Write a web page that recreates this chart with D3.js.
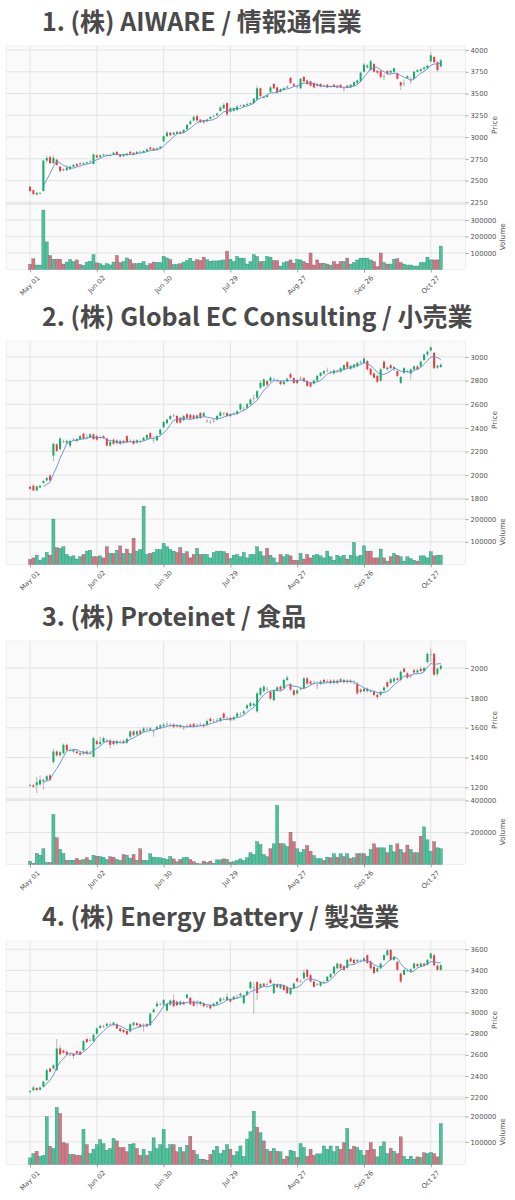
<!DOCTYPE html>
<html>
<head>
<meta charset="utf-8">
<script src="https://cdn.jsdelivr.net/npm/d3@7"></script>
<style>
  body { margin: 0; background: #fff; }
  svg { display: block; }
</style>
</head>
<body>
<svg id="chart" width="515" height="1200"></svg>
<script>
// trading-day index of each date tick (every 20 sessions) and its label
const dateTickIdx = [0, 20, 40, 60, 80, 100, 120];
const dateLabels = ["May 01", "Jun 02", "Jun 30", "Jul 29", "Aug 27", "Sep 26", "Oct 27"];

const titles = [
  "1. (株) AIWARE / 情報通信業",
  "2. (株) Global EC Consulting / 小売業",
  "3. (株) Proteinet / 食品",
  "4. (株) Energy Battery / 製造業"
];

// ---- 1. AIWARE
const aiwareOpen = [2430,2390,2340,2350,2380,2730,2770,2700,2740,2660,
  2630,2620,2630,2660,2690,2700,2690,2700,2720,2690,
  2790,2770,2790,2790,2795,2800,2830,2800,2780,2790,
  2830,2820,2810,2830,2820,2840,2880,2870,2850,2870,
  2950,3010,3050,3030,3040,3060,3050,3090,3150,3190,
  3240,3200,3190,3180,3210,3240,3250,3300,3330,3390,
  3290,3300,3310,3360,3350,3370,3380,3390,3430,3560,
  3450,3460,3520,3610,3570,3520,3540,3570,3680,3610,
  3580,3560,3690,3650,3640,3620,3610,3610,3590,3600,
  3580,3600,3590,3600,3560,3590,3570,3590,3620,3640,
  3750,3800,3770,3840,3760,3760,3700,3760,3740,3750,
  3730,3630,3620,3680,3670,3670,3750,3760,3780,3790,
  3870,3920,3860,3810];
const aiwareClose = [2380,2345,2360,2355,2730,2760,2700,2760,2680,2610,
  2620,2650,2660,2680,2670,2690,2700,2710,2720,2800,
  2765,2790,2800,2790,2795,2820,2800,2775,2800,2810,
  2810,2800,2830,2830,2840,2860,2860,2850,2870,2890,
  3010,3050,3020,3050,3060,3040,3080,3140,3180,3230,
  3190,3170,3170,3200,3230,3240,3270,3340,3370,3260,
  3330,3330,3350,3360,3370,3380,3390,3440,3560,3470,
  3460,3480,3570,3560,3510,3550,3560,3580,3620,3590,
  3580,3670,3640,3610,3590,3570,3590,3580,3590,3570,
  3580,3580,3570,3570,3560,3570,3600,3630,3650,3740,
  3830,3820,3870,3750,3740,3690,3700,3730,3760,3790,
  3670,3590,3620,3700,3670,3750,3770,3780,3800,3820,
  3940,3860,3770,3880];
const aiwareHigh = [2440,2395,2365,2365,2740,2790,2790,2790,2750,2665,
  2640,2660,2670,2690,2700,2710,2710,2720,2735,2810,
  2800,2800,2810,2805,2810,2830,2840,2805,2810,2820,
  2840,2825,2840,2845,2850,2870,2890,2880,2880,2900,
  3020,3070,3060,3060,3070,3070,3090,3150,3200,3250,
  3260,3210,3200,3210,3240,3255,3280,3360,3390,3400,
  3340,3340,3370,3375,3380,3400,3400,3450,3590,3570,
  3475,3495,3590,3620,3580,3560,3575,3590,3690,3620,
  3600,3680,3700,3660,3650,3630,3620,3620,3605,3610,
  3595,3610,3600,3610,3575,3600,3610,3640,3660,3750,
  3850,3840,3890,3850,3775,3770,3720,3770,3770,3800,
  3740,3640,3660,3710,3690,3760,3780,3790,3810,3830,
  3970,3930,3870,3900];
const aiwareLow = [2370,2330,2325,2340,2375,2700,2690,2690,2670,2590,
  2605,2610,2620,2650,2660,2680,2680,2690,2705,2685,
  2755,2760,2780,2775,2785,2795,2790,2765,2770,2785,
  2800,2790,2800,2815,2815,2830,2850,2840,2845,2860,
  2940,3000,3010,3020,3030,3030,3040,3080,3140,3180,
  3180,3160,3150,3170,3200,3225,3240,3290,3320,3240,
  3280,3290,3300,3345,3340,3360,3370,3380,3420,3460,
  3440,3450,3510,3550,3500,3510,3530,3560,3610,3580,
  3560,3550,3630,3600,3580,3560,3575,3570,3575,3560,
  3565,3570,3560,3560,3520,3560,3560,3580,3610,3630,
  3740,3790,3760,3740,3720,3670,3650,3720,3730,3740,
  3660,3540,3580,3670,3610,3660,3740,3750,3770,3780,
  3860,3850,3750,3800];
const aiwareVolume = [31000,65000,27000,27000,360000,167000,85000,62000,62000,62000,
  33000,45000,60000,48000,58000,30000,25000,45000,50000,90000,
  40000,35000,25000,35000,28000,45000,85000,42000,48000,70000,
  60000,35000,35000,38000,48000,25000,35000,45000,42000,42000,
  80000,70000,60000,30000,30000,35000,45000,55000,68000,50000,
  60000,55000,75000,60000,50000,52000,52000,55000,58000,110000,
  62000,48000,79000,69000,69000,33000,48000,90000,79000,48000,
  48000,79000,75000,54000,54000,21000,42000,48000,58000,38000,
  62000,58000,48000,38000,100000,27000,58000,38000,38000,33000,
  27000,48000,33000,48000,48000,69000,33000,42000,58000,69000,
  69000,69000,58000,48000,17000,100000,42000,33000,33000,62000,
  65000,42000,33000,27000,27000,21000,21000,42000,42000,75000,
  58000,58000,58000,142000];

// ---- 2. Global EC Consulting
const globalOpen = [1900,1910,1870,1895,1935,1955,1995,2165,2260,2220,
  2285,2275,2250,2300,2290,2305,2350,2320,2320,2345,
  2330,2320,2330,2310,2250,2300,2270,2290,2275,2330,
  2290,2290,2275,2285,2295,2310,2355,2300,2295,2345,
  2405,2440,2475,2505,2500,2485,2465,2515,2510,2505,
  2480,2525,2500,2460,2450,2460,2470,2500,2520,2525,
  2500,2520,2520,2555,2560,2570,2600,2650,2655,2740,
  2755,2795,2795,2810,2800,2795,2770,2795,2855,2820,
  2805,2820,2820,2795,2780,2775,2800,2840,2860,2885,
  2870,2860,2880,2875,2895,2955,2900,2910,2920,2950,
  2950,2965,2900,2860,2840,2800,2960,2895,2930,2895,
  2880,2780,2865,2880,2860,2895,2920,2920,2975,3020,
  3055,3035,2910,2915];
const globalClose = [1885,1870,1905,1910,1950,1975,1955,2265,2205,2310,
  2285,2290,2290,2300,2305,2330,2310,2320,2345,2305,
  2300,2320,2315,2250,2280,2265,2295,2265,2290,2280,
  2290,2265,2295,2285,2315,2340,2315,2300,2330,2385,
  2450,2470,2500,2505,2445,2445,2500,2485,2480,2480,
  2505,2485,2525,2460,2450,2460,2500,2530,2520,2500,
  2515,2520,2540,2600,2560,2600,2640,2650,2710,2780,
  2810,2765,2825,2810,2800,2770,2790,2815,2825,2780,
  2780,2820,2795,2755,2750,2800,2840,2865,2880,2885,
  2870,2885,2880,2905,2930,2910,2925,2935,2950,2955,
  2985,2895,2850,2825,2790,2895,2905,2910,2905,2915,
  2840,2830,2905,2880,2895,2920,2895,2960,3020,3045,
  3080,2905,2925,2935];
const globalHigh = [1910,1925,1915,1920,1960,1985,2010,2275,2270,2320,
  2300,2300,2300,2315,2315,2340,2360,2345,2355,2355,
  2340,2335,2340,2315,2290,2310,2305,2300,2300,2340,
  2305,2300,2305,2300,2325,2350,2365,2330,2340,2395,
  2460,2480,2510,2520,2510,2495,2510,2525,2520,2515,
  2515,2535,2535,2475,2465,2475,2510,2545,2535,2535,
  2525,2535,2550,2610,2580,2610,2650,2680,2720,2800,
  2820,2805,2840,2825,2815,2805,2800,2825,2870,2830,
  2815,2835,2830,2805,2790,2810,2850,2875,2890,2910,
  2885,2895,2895,2915,2940,2965,2935,2945,2960,2970,
  3000,2975,2910,2870,2850,2905,2970,2920,2940,2925,
  2890,2840,2915,2895,2905,2930,2930,2970,3030,3055,
  3090,3045,2935,2945];
const globalLow = [1875,1865,1865,1890,1925,1950,1950,2120,2195,2210,
  2270,2265,2230,2290,2280,2295,2300,2300,2310,2295,
  2290,2305,2305,2240,2240,2255,2260,2255,2265,2270,
  2275,2255,2265,2270,2285,2300,2305,2270,2285,2335,
  2395,2430,2465,2490,2435,2435,2455,2475,2470,2470,
  2470,2475,2490,2445,2435,2445,2460,2490,2505,2490,
  2490,2505,2510,2545,2545,2560,2590,2620,2645,2730,
  2745,2755,2785,2795,2785,2760,2760,2785,2815,2770,
  2770,2805,2785,2745,2740,2765,2790,2830,2850,2870,
  2855,2850,2865,2865,2885,2900,2890,2900,2910,2940,
  2940,2885,2840,2815,2780,2790,2895,2885,2895,2885,
  2830,2770,2855,2865,2810,2885,2885,2910,2965,3010,
  3045,2895,2900,2905];
const globalVolume = [22000,29000,41000,19000,29000,53000,41000,200000,74000,71000,
  78000,44000,34000,38000,24000,34000,44000,59000,63000,34000,
  34000,38000,29000,78000,49000,49000,63000,82000,49000,68000,
  49000,115000,59000,66000,257000,44000,49000,53000,66000,66000,
  93000,78000,66000,59000,53000,74000,49000,56000,29000,44000,
  71000,44000,44000,44000,29000,53000,59000,59000,56000,49000,
  26000,41000,44000,34000,53000,29000,44000,44000,78000,56000,
  38000,71000,41000,29000,9000,44000,34000,44000,38000,19000,
  19000,49000,24000,44000,29000,41000,44000,38000,29000,59000,
  34000,19000,41000,34000,41000,24000,41000,97000,34000,41000,
  82000,59000,59000,29000,29000,68000,29000,15000,34000,49000,
  41000,34000,15000,34000,26000,19000,15000,38000,38000,29000,
  56000,38000,41000,41000];

// ---- 3. Proteinet
const proteinetOpen = [1210,1215,1215,1220,1240,1250,1280,1370,1440,1415,
  1430,1485,1450,1440,1440,1430,1425,1440,1430,1405,
  1510,1490,1505,1510,1515,1510,1495,1505,1510,1500,
  1540,1575,1555,1580,1575,1590,1585,1575,1590,1600,
  1610,1625,1615,1620,1610,1615,1600,1610,1620,1625,
  1615,1620,1620,1620,1660,1645,1650,1645,1695,1660,
  1665,1655,1675,1690,1695,1730,1745,1750,1710,1820,
  1845,1860,1840,1785,1850,1875,1865,1920,1890,1850,
  1830,1860,1865,1930,1910,1900,1885,1895,1920,1910,
  1915,1900,1915,1910,1920,1905,1915,1900,1895,1840,
  1860,1845,1845,1840,1820,1820,1850,1905,1900,1910,
  1930,1920,1995,1965,1945,1985,1970,1995,1980,2040,
  2090,2095,1960,1995];
const proteinetClose = [1215,1205,1235,1250,1250,1275,1250,1440,1415,1435,
  1485,1450,1450,1450,1430,1420,1435,1425,1430,1530,
  1490,1505,1530,1510,1485,1490,1510,1505,1500,1525,
  1575,1550,1575,1560,1595,1590,1595,1575,1605,1615,
  1620,1625,1615,1605,1610,1605,1600,1610,1610,1610,
  1615,1620,1610,1645,1645,1645,1650,1665,1665,1660,
  1650,1670,1695,1690,1710,1750,1765,1760,1830,1865,
  1875,1860,1795,1850,1870,1855,1920,1935,1855,1820,
  1850,1860,1930,1895,1895,1900,1885,1910,1905,1910,
  1900,1915,1900,1925,1905,1915,1905,1900,1830,1855,
  1845,1860,1845,1820,1805,1840,1870,1875,1925,1930,
  1920,1975,1975,1935,1945,1970,1985,1980,2000,2095,
  2090,1955,1995,2015];
const proteinetHigh = [1225,1225,1270,1280,1260,1285,1290,1460,1450,1445,
  1495,1495,1465,1460,1450,1440,1445,1450,1445,1540,
  1520,1540,1540,1525,1525,1520,1520,1520,1520,1535,
  1585,1585,1585,1590,1605,1605,1605,1590,1615,1625,
  1630,1640,1630,1630,1625,1625,1615,1625,1630,1635,
  1630,1635,1630,1655,1670,1660,1665,1675,1705,1675,
  1675,1680,1705,1705,1720,1760,1775,1770,1840,1875,
  1885,1875,1850,1860,1880,1885,1930,1950,1900,1860,
  1860,1875,1940,1940,1920,1915,1910,1920,1930,1925,
  1925,1925,1925,1935,1930,1925,1925,1915,1905,1865,
  1870,1870,1860,1850,1830,1850,1880,1915,1935,1940,
  1940,1985,2005,1975,1960,1995,1995,2010,2010,2105,
  2130,2100,2005,2025];
const proteinetLow = [1205,1195,1160,1210,1185,1240,1240,1360,1405,1405,
  1420,1440,1440,1430,1420,1410,1415,1415,1420,1400,
  1480,1480,1495,1500,1460,1480,1485,1495,1490,1490,
  1530,1540,1545,1550,1565,1580,1575,1540,1580,1590,
  1600,1610,1605,1595,1600,1595,1585,1600,1600,1600,
  1605,1610,1600,1610,1635,1635,1640,1635,1655,1650,
  1640,1645,1665,1680,1685,1720,1735,1740,1700,1810,
  1835,1850,1785,1775,1840,1845,1855,1910,1845,1810,
  1820,1850,1855,1885,1885,1890,1860,1885,1895,1900,
  1890,1890,1890,1900,1895,1895,1895,1890,1820,1830,
  1835,1835,1835,1810,1790,1810,1840,1865,1890,1900,
  1910,1910,1965,1925,1935,1960,1960,1970,1970,2030,
  2040,1945,1945,1985];
const proteinetVolume = [21000,8000,69000,58000,98000,12000,12000,312000,167000,94000,
  69000,27000,27000,27000,37000,27000,31000,42000,27000,58000,
  52000,50000,46000,31000,48000,46000,31000,25000,62000,58000,
  40000,62000,27000,98000,27000,25000,67000,46000,42000,42000,
  37000,31000,50000,35000,17000,31000,42000,46000,31000,17000,
  8000,4000,21000,12000,21000,8000,29000,29000,35000,31000,
  15000,17000,25000,35000,25000,42000,73000,62000,142000,125000,
  62000,48000,98000,129000,369000,131000,129000,112000,202000,142000,
  98000,77000,94000,119000,83000,56000,37000,37000,25000,46000,
  42000,67000,46000,67000,50000,67000,37000,42000,67000,67000,
  67000,52000,94000,129000,104000,104000,104000,73000,121000,79000,
  129000,94000,73000,121000,94000,73000,73000,177000,235000,154000,
  83000,142000,104000,98000];

// ---- 4. Energy Battery
const energyOpen = [2245,2265,2285,2270,2300,2360,2470,2470,2455,2660,
  2640,2630,2600,2610,2635,2630,2645,2750,2740,2730,
  2800,2855,2870,2875,2890,2885,2890,2850,2835,2825,
  2820,2880,2900,2890,2870,2890,2880,3005,3060,3080,
  3075,3020,3075,3120,3105,3075,3100,3140,3140,3105,
  3090,3080,3090,3060,3070,3065,3080,3105,3130,3120,
  3130,3125,3150,3160,3090,3170,3230,3240,3290,3240,
  3275,3270,3310,3185,3265,3230,3260,3245,3175,3230,
  3325,3300,3325,3405,3355,3295,3270,3255,3290,3300,
  3335,3370,3420,3460,3440,3425,3515,3500,3485,3490,
  3490,3545,3485,3435,3390,3420,3500,3545,3595,3500,
  3480,3370,3360,3400,3390,3420,3460,3440,3465,3455,
  3515,3545,3445,3405];
const energyClose = [2255,2290,2265,2290,2345,2455,2440,2500,2660,2605,
  2620,2605,2600,2590,2615,2605,2730,2720,2740,2790,
  2850,2875,2870,2895,2890,2905,2850,2825,2815,2795,
  2890,2905,2880,2865,2870,2870,2990,3030,3085,3080,
  3120,3085,3115,3060,3070,3105,3080,3170,3080,3065,
  3090,3100,3060,3060,3040,3085,3100,3135,3130,3150,
  3105,3150,3150,3180,3165,3200,3290,3240,3185,3270,
  3255,3270,3280,3270,3240,3265,3215,3185,3230,3275,
  3295,3300,3380,3340,3295,3245,3270,3290,3290,3340,
  3365,3435,3465,3420,3405,3500,3485,3470,3500,3490,
  3515,3470,3420,3375,3420,3465,3545,3590,3500,3530,
  3405,3295,3405,3400,3410,3465,3440,3465,3445,3500,
  3560,3450,3405,3450];
const energyHigh = [2265,2310,2295,2300,2355,2470,2480,2510,2750,2690,
  2650,2640,2615,2620,2645,2640,2740,2760,2755,2800,
  2860,2885,2885,2905,2905,2915,2900,2860,2845,2835,
  2900,2915,2910,2900,2900,2900,3000,3040,3110,3095,
  3130,3095,3125,3170,3115,3115,3110,3180,3150,3115,
  3120,3110,3100,3075,3080,3095,3110,3145,3145,3180,
  3140,3160,3175,3190,3175,3210,3300,3290,3300,3280,
  3285,3285,3330,3280,3275,3275,3270,3255,3240,3285,
  3335,3315,3410,3415,3365,3305,3285,3300,3305,3350,
  3375,3445,3475,3470,3450,3510,3525,3510,3510,3505,
  3525,3550,3495,3445,3430,3475,3555,3605,3605,3540,
  3490,3380,3415,3415,3420,3475,3470,3475,3475,3510,
  3570,3555,3455,3460];
const energyLow = [2240,2255,2255,2260,2290,2350,2430,2460,2445,2595,
  2610,2595,2590,2560,2605,2595,2635,2710,2725,2720,
  2790,2845,2855,2865,2875,2875,2840,2815,2805,2785,
  2810,2870,2870,2855,2820,2860,2870,2995,3050,3065,
  3065,3010,3065,3050,3060,3065,3070,3130,3070,3055,
  3060,3070,3050,3045,3030,3055,3070,3095,3115,3110,
  3095,3115,3130,3150,3080,3160,3220,2990,3120,3230,
  3245,3255,3270,3175,3230,3220,3205,3175,3165,3220,
  3285,3285,3315,3330,3285,3235,3255,3245,3275,3290,
  3325,3360,3410,3410,3395,3415,3475,3460,3475,3475,
  3480,3460,3410,3360,3380,3410,3490,3535,3490,3490,
  3395,3280,3350,3385,3380,3410,3430,3430,3435,3445,
  3505,3440,3395,3395];
const energyVolume = [37000,54000,63000,43000,47000,199000,83000,74000,236000,212000,
  97000,93000,51000,51000,47000,47000,149000,89000,54000,71000,
  89000,109000,93000,67000,74000,113000,104000,78000,78000,61000,
  91000,93000,74000,47000,71000,47000,63000,116000,74000,89000,
  149000,74000,89000,89000,61000,78000,61000,87000,122000,67000,
  51000,32000,32000,28000,51000,67000,83000,54000,67000,89000,
  71000,47000,61000,84000,43000,111000,140000,221000,158000,136000,
  104000,70000,63000,74000,63000,61000,32000,43000,67000,63000,
  39000,93000,78000,43000,71000,47000,53000,53000,84000,71000,
  84000,61000,83000,71000,97000,153000,71000,83000,78000,67000,
  47000,67000,97000,71000,41000,83000,100000,54000,74000,63000,
  54000,120000,43000,32000,43000,32000,41000,38000,57000,54000,
  58000,54000,41000,172000];

// axis ranges and ticks (value space)
const priceDomains = [[2231, 4046], [1798, 3135], [1122, 2181], [2181, 3679]];
const priceTicks = [
  [2250, 2500, 2750, 3000, 3250, 3500, 3750, 4000],
  [1800, 2000, 2200, 2400, 2600, 2800, 3000],
  [1200, 1400, 1600, 1800, 2000],
  [2200, 2400, 2600, 2800, 3000, 3200, 3400, 3600]
];
const volumeDomains = [[0, 397000], [0, 288500], [0, 409000], [11000, 269000]];
const volumeTicks = [
  [100000, 200000, 300000],
  [100000, 200000],
  [200000, 400000],
  [100000, 200000]
];

const companies = [
  { open: aiwareOpen, high: aiwareHigh, low: aiwareLow, close: aiwareClose, volume: aiwareVolume },
  { open: globalOpen, high: globalHigh, low: globalLow, close: globalClose, volume: globalVolume },
  { open: proteinetOpen, high: proteinetHigh, low: proteinetLow, close: proteinetClose, volume: proteinetVolume },
  { open: energyOpen, high: energyHigh, low: energyLow, close: energyClose, volume: energyVolume }
];

// Layout
const svg = d3.select("#chart");
const plotLeft = 6, plotRight = 465.5;
const priceH = 158, volH = 65.5;
const panelTops = [46, 341, 641, 941];

const upColor = "#0fae62", downColor = "#f0383f";
const volUp = "#4dc493", volDown = "#e4707a";
const gridColor = "#e1e1e1";
const tickFont = "'DejaVu Sans', sans-serif";

const x = d3.scaleLinear().domain([-7.2, 130.4]).range([plotLeft, plotRight]);
const dayW = x(1) - x(0);

companies.forEach((c, k) => drawPanel(c, k, panelTops[k]));

function drawPanel(c, k, top) {
  const g = svg.append("g");
  const priceBottom = top + priceH;
  const bottom = priceBottom + volH;

  const y = d3.scaleLinear().domain(priceDomains[k]).range([priceBottom, top]);
  const yv = d3.scaleLinear().domain(volumeDomains[k]).range([bottom, priceBottom]);

  const bars = c.close.map((v, i) => ({
    i, o: c.open[i], h: c.high[i], l: c.low[i], c: v, v: c.volume[i]
  }));

  // Title
  g.append("text")
    .attr("x", 42)
    .attr("y", top - 15)
    .style("font-family", "'Noto Sans CJK JP', 'Noto Sans', sans-serif")
    .style("font-weight", "bold")
    .style("font-size", "25px")
    .style("fill", "#4a4a4a")
    .text(titles[k]);

  // Background
  g.append("rect")
    .attr("x", plotLeft).attr("y", top)
    .attr("width", plotRight - plotLeft).attr("height", priceH + volH)
    .attr("fill", "#fafafa")
    .attr("stroke", "#e6e6e6")
    .attr("stroke-width", 0.6);

  // Grid
  const grid = g.append("g").attr("stroke", gridColor).attr("stroke-width", 0.9);
  grid.selectAll(".hp").data(priceTicks[k]).enter().append("line")
    .attr("x1", plotLeft).attr("x2", plotRight)
    .attr("y1", d => y(d)).attr("y2", d => y(d));
  grid.selectAll(".hv").data(volumeTicks[k]).enter().append("line")
    .attr("x1", plotLeft).attr("x2", plotRight)
    .attr("y1", d => yv(d)).attr("y2", d => yv(d));
  grid.selectAll(".vx").data(dateTickIdx).enter().append("line")
    .attr("x1", d => x(d)).attr("x2", d => x(d))
    .attr("y1", top).attr("y2", bottom);

  // Panel divider
  g.append("line")
    .attr("x1", plotLeft).attr("x2", plotRight)
    .attr("y1", priceBottom).attr("y2", priceBottom)
    .attr("stroke", "#d6d6d6").attr("stroke-width", 0.9);

  // Volume bars
  const vw = dayW * 0.92;
  g.append("g").selectAll("rect").data(bars).enter().append("rect")
    .attr("x", d => x(d.i) - vw / 2)
    .attr("width", vw)
    .attr("y", d => yv(d.v))
    .attr("height", d => Math.max(0, bottom - yv(d.v)))
    .attr("fill", d => d.c >= d.o ? volUp : volDown)
    .attr("stroke", "#2f7488")
    .attr("stroke-width", 0.35);

  // Wicks
  g.append("g").selectAll("line").data(bars).enter().append("line")
    .attr("x1", d => x(d.i)).attr("x2", d => x(d.i))
    .attr("y1", d => y(d.h)).attr("y2", d => y(d.l))
    .attr("stroke", "#8c8c8c")
    .attr("stroke-width", 0.6);

  // Bodies
  const bw = dayW * 0.6;
  g.append("g").selectAll("rect").data(bars).enter().append("rect")
    .attr("x", d => x(d.i) - bw / 2)
    .attr("width", bw)
    .attr("y", d => y(Math.max(d.o, d.c)))
    .attr("height", d => Math.max(0.6, Math.abs(y(d.o) - y(d.c))))
    .attr("fill", d => d.c > d.o ? upColor : (d.c < d.o ? downColor : "#8c8c8c"));

  // 5-day moving average of the close
  const ma = bars.filter(d => d.i >= 4).map(d => ({
    i: d.i, v: d3.mean(c.close.slice(d.i - 4, d.i + 1))
  }));
  g.append("path")
    .datum(ma)
    .attr("fill", "none")
    .attr("stroke", "#5b8fcf")
    .attr("stroke-width", 0.9)
    .attr("d", d3.line().x(d => x(d.i)).y(d => y(d.v)));

  // Right axes
  const styleAxis = sel => {
    sel.select(".domain").remove();
    sel.selectAll(".tick line").attr("stroke", "#666").attr("stroke-width", 0.6);
    sel.selectAll(".tick text")
      .style("font-family", tickFont)
      .style("font-size", "6.8px")
      .style("fill", "#555");
  };
  g.append("g")
    .attr("transform", `translate(${plotRight},0)`)
    .call(d3.axisRight(y).tickValues(priceTicks[k]).tickSize(3).tickPadding(2).tickFormat(d3.format("d")))
    .call(styleAxis);
  g.append("g")
    .attr("transform", `translate(${plotRight},0)`)
    .call(d3.axisRight(yv).tickValues(volumeTicks[k]).tickSize(3).tickPadding(2).tickFormat(d3.format("d")))
    .call(styleAxis);

  g.append("text")
    .attr("transform", `translate(497,${top + priceH / 2}) rotate(-90)`)
    .attr("text-anchor", "middle")
    .style("font-family", tickFont)
    .style("font-size", "7.3px")
    .style("fill", "#555")
    .text("Price");
  g.append("text")
    .attr("transform", `translate(505,${priceBottom + volH / 2}) rotate(-90)`)
    .attr("text-anchor", "middle")
    .style("font-family", tickFont)
    .style("font-size", "7.3px")
    .style("fill", "#555")
    .text("Volume");

  // Bottom date axis
  g.append("g")
    .attr("transform", `translate(0,${bottom})`)
    .call(d3.axisBottom(x).tickValues(dateTickIdx).tickSize(3).tickFormat(""))
    .call(sel => {
      sel.select(".domain").remove();
      sel.selectAll(".tick line").attr("stroke", "#666").attr("stroke-width", 0.6);
    });

  const fs = 6.8;
  g.append("g").selectAll("text").data(dateTickIdx).enter().append("text")
    .style("font-family", tickFont)
    .style("font-size", fs + "px")
    .style("fill", "#555")
    .attr("text-anchor", "middle")
    .attr("dominant-baseline", "central")
    .text((d, i) => dateLabels[i])
    .each(function (d) {
      const len = this.getComputedTextLength();
      const half = (len + fs) * Math.SQRT1_2 / 2;
      const cx = x(d), cy = bottom + 5 + half;
      d3.select(this)
        .attr("x", cx).attr("y", cy)
        .attr("transform", `rotate(-45,${cx},${cy})`);
    });
}
</script>
</body>
</html>
